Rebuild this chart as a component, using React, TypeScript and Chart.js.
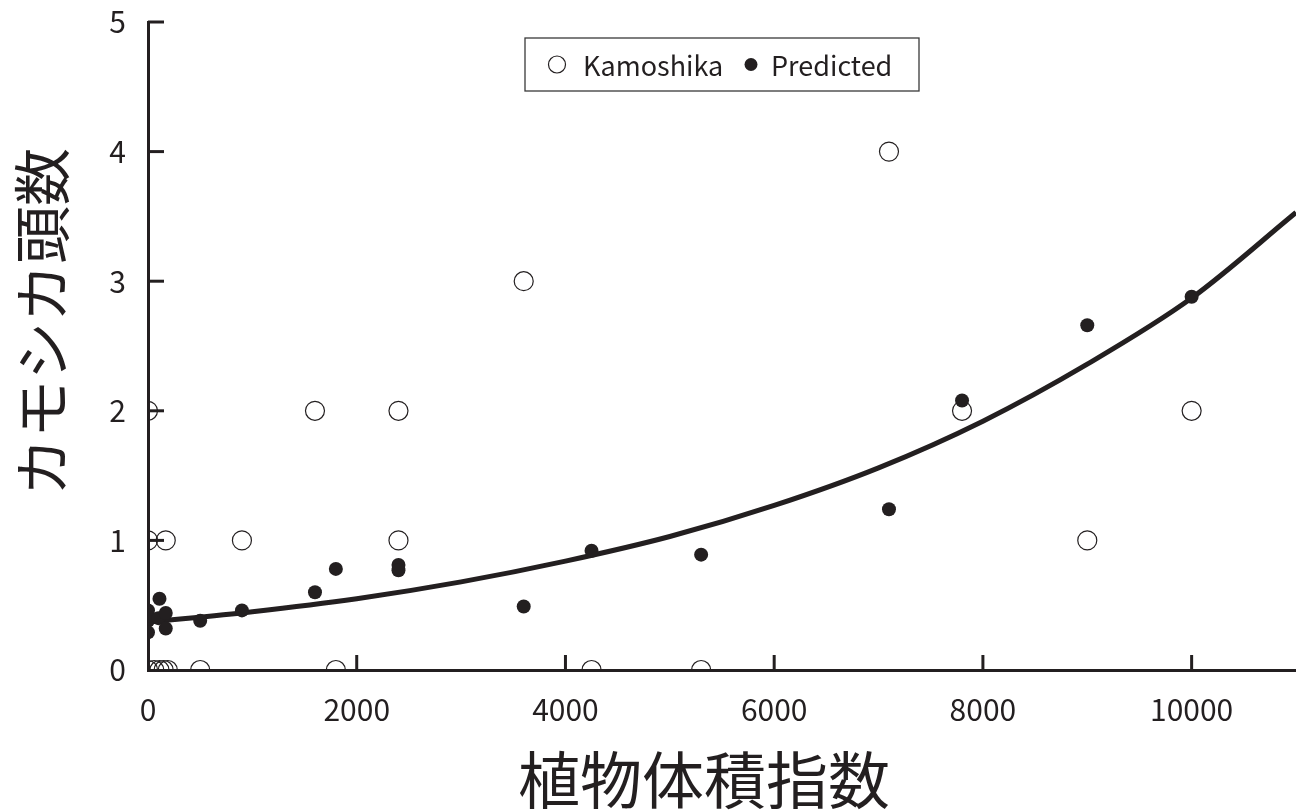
import React, { useEffect, useRef } from 'react';
import { Chart, registerables } from 'chart.js';

Chart.register(...registerables);

const INK = '#231f20';
const FONT = '"Noto Sans CJK JP", "Noto Sans", sans-serif';

// Observed counts (open circles)
const kamoshikaX = [0, 0, 170, 0, 60, 110, 150, 190, 500, 900, 1600, 1800, 2400, 2400, 3600, 4250, 5300, 7100, 7800, 9000, 10000];
const kamoshikaY = [2, 1, 1, 0, 0, 0, 0, 0, 0, 1, 2, 0, 2, 1, 3, 0, 0, 4, 2, 1, 2];

// Predicted values (filled circles)
const predictedX = [0, 0, 0, 0, 100, 110, 170, 170, 500, 900, 1600, 1800, 2400, 2400, 3600, 4250, 5300, 7100, 7800, 9000, 10000];
const predictedY = [0.46, 0.38, 0.29, 0.42, 0.40, 0.55, 0.44, 0.32, 0.38, 0.46, 0.60, 0.78, 0.81, 0.77, 0.49, 0.92, 0.89, 1.24, 2.08, 2.66, 2.88];

// Fitted curve
const curveX = [0, 1000, 2000, 3000, 4000, 5000, 6000, 7000, 8000, 9000, 10000, 11000];
const curveY = [0.37, 0.45, 0.55, 0.68, 0.84, 1.03, 1.27, 1.56, 1.92, 2.36, 2.87, 3.53];

const xTicks = [0, 2000, 4000, 6000, 8000, 10000];
const yTicks = [0, 1, 2, 3, 4, 5];
const xTitle = '植物体積指数';
const yTitle = 'カモシカ頭数';
const legendLabels = ['Kamoshika', 'Predicted'];

const zip = (xs: number[], ys: number[]) => xs.map((x, i) => ({ x, y: ys[i] }));

const decorPlugin = {
  id: 'decor',
  afterDraw(chart: any) {
    const ctx = chart.ctx as CanvasRenderingContext2D;
    const { left, right, top, bottom } = chart.chartArea;
    const xs = chart.scales.x;
    const ys = chart.scales.y;
    ctx.save();
    // inward tick marks
    ctx.strokeStyle = INK;
    ctx.lineWidth = 3;
    ctx.lineCap = 'butt';
    xs.ticks.forEach((t: any) => {
      if (t.value === 0) return;
      const px = xs.getPixelForValue(t.value);
      ctx.beginPath();
      ctx.moveTo(px, bottom);
      ctx.lineTo(px, bottom - 15);
      ctx.stroke();
    });
    ys.ticks.forEach((t: any) => {
      if (t.value === 0) return;
      const py = ys.getPixelForValue(t.value);
      ctx.beginPath();
      ctx.moveTo(left, py);
      ctx.lineTo(left + 16, py);
      ctx.stroke();
    });

    // legend box
    const cx = (left + right) / 2;
    const bw = 394;
    const bh = 53;
    const bx = cx - bw / 2;
    const by = top + 16;
    ctx.lineWidth = 1.3;
    ctx.strokeStyle = '#3a3a3a';
    ctx.strokeRect(bx, by, bw, bh);
    const my = by + bh / 2;
    ctx.beginPath();
    ctx.arc(bx + 32, my, 8.5, 0, Math.PI * 2);
    ctx.lineWidth = 1.2;
    ctx.strokeStyle = INK;
    ctx.stroke();
    ctx.beginPath();
    ctx.arc(bx + 226, my, 6.5, 0, Math.PI * 2);
    ctx.fillStyle = INK;
    ctx.fill();
    ctx.font = `27px ${FONT}`;
    ctx.textAlign = 'left';
    ctx.textBaseline = 'middle';
    ctx.fillText(legendLabels[0], bx + 58, my + 1);
    ctx.fillText(legendLabels[1], bx + 246, my + 1);

    // axis titles
    ctx.textAlign = 'center';
    ctx.font = `62px ${FONT}`;
    ctx.fillText(xTitle, cx - 18, bottom + 110);
    ctx.save();
    ctx.translate(42, (top + bottom) / 2 - 24);
    ctx.rotate(-Math.PI / 2);
    ctx.font = `58px ${FONT}`;
    ctx.fillText(yTitle, 0, 0);
    ctx.restore();
    ctx.restore();
  },
};

export default function App() {
  const ref = useRef<HTMLCanvasElement | null>(null);
  useEffect(() => {
    if (!ref.current) return;
    const chart = new Chart(ref.current, {
      type: 'scatter',
      data: {
        datasets: [
          {
            label: legendLabels[1],
            data: zip(predictedX, predictedY),
            pointRadius: 7,
            pointHoverRadius: 7,
            backgroundColor: INK,
            borderWidth: 0,
            showLine: false,
          },
          {
            label: legendLabels[0],
            data: zip(kamoshikaX, kamoshikaY),
            pointRadius: 9.5,
            pointHoverRadius: 9.5,
            backgroundColor: 'rgba(0,0,0,0)',
            borderColor: INK,
            borderWidth: 1.2,
            showLine: false,
          },
          {
            label: 'fit',
            type: 'line',
            data: zip(curveX, curveY),
            borderColor: INK,
            borderWidth: 5,
            pointRadius: 0,
            fill: false,
            cubicInterpolationMode: 'monotone',
          } as any,
        ],
      },
      options: {
        responsive: false,
        animation: false,
        devicePixelRatio: 1,
        layout: { autoPadding: false, padding: { top: 22, right: 0, bottom: 0, left: 0 } },
        plugins: {
          legend: { display: false },
          tooltip: { enabled: false },
          title: { display: false },
        },
        scales: {
          x: {
            type: 'linear',
            min: 0,
            max: 11000,
            afterBuildTicks: (scale: any) => {
              scale.ticks = xTicks.map((v) => ({ value: v }));
            },
            afterFit: (scale: any) => {
              scale.height = 142;
              scale.paddingLeft = 0;
              scale.paddingRight = 0;
            },
            grid: { display: false, drawTicks: false },
            border: { display: true, width: 3, color: INK },
            ticks: {
              padding: 22,
              color: INK,
              font: { family: FONT, size: 30 },
              maxRotation: 0,
              callback: (v: any) => String(v),
            },
          },
          y: {
            type: 'linear',
            min: 0,
            max: 5,
            afterBuildTicks: (scale: any) => {
              scale.ticks = yTicks.map((v) => ({ value: v }));
            },
            afterFit: (scale: any) => {
              scale.width = 148;
              scale.paddingTop = 0;
              scale.paddingBottom = 0;
            },
            grid: { display: false, drawTicks: false },
            border: { display: true, width: 3, color: INK },
            ticks: {
              padding: 22,
              color: INK,
              font: { family: FONT, size: 30 },
              callback: (v: any) => String(v),
            },
          },
        },
      },
      plugins: [decorPlugin],
    });
    return () => chart.destroy();
  }, []);
  return (
    <div style={{ position: 'fixed', left: 0, top: 0, width: 1296, height: 812, background: '#fff' }}>
      <canvas ref={ref} width={1296} height={812} style={{ display: 'block' }} />
    </div>
  );
}
